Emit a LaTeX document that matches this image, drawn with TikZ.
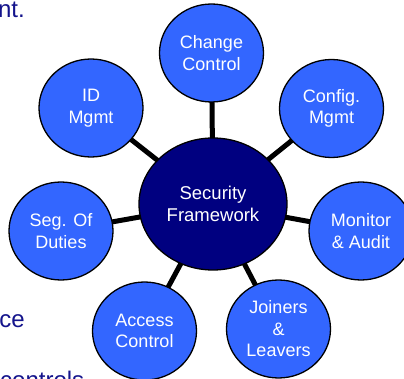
\documentclass[tikz,border=0pt]{standalone}
\usepackage{fontspec}
\setmainfont{Liberation Sans}
\usetikzlibrary{shapes.geometric,backgrounds}
\definecolor{satblue}{RGB}{51,102,255}
\definecolor{corenavy}{RGB}{0,0,128}
\definecolor{slidetext}{RGB}{20,20,140}
\tikzset{
  sat/.style={ellipse, draw=black, line width=1.3pt, fill=satblue, text=white,
    minimum width=104pt, minimum height=98pt, inner sep=0pt, align=center,
    font=\fontsize{18}{21.5}\selectfont},
  core/.style={ellipse, draw=black, line width=1.3pt, fill=corenavy, text=white,
    minimum width=148pt, minimum height=132pt, inner sep=0pt, align=center,
    font=\fontsize{18.5}{22}\selectfont},
  spoke/.style={line width=5pt, black},
  slide/.style={text=slidetext, inner sep=0pt, font=\fontsize{24}{28}\selectfont}
}
\begin{document}
\begin{tikzpicture}[x=1pt,y=-1pt]
\useasboundingbox (0,0) rectangle (404,379);
\clip (0,0) rectangle (404,379);
\node[slide, anchor=base east] (t1) at (25,18) {nt.};
\node[slide, anchor=base east] (t2) at (25,327) {ce};
\node[slide, anchor=base west] (t3) at (0,388) {controls};
\node[core] (sf) at (213,204) {Security\\Framework};
\node[sat] (cc) at (211.5,53) {Change\\Control};
\node[sat] (id) at (91,108) {ID\\Mgmt};
\node[sat] (cm) at (331.5,108.5) {Config.\\Mgmt};
\node[sat] (sd) at (61,231) {Seg. Of\\Duties};
\node[sat] (ma) at (361,231) {Monitor\\\&~Audit};
\node[sat] (ac) at (144.5,331) {Access\\Control};
\node[sat] (jl) at (278.5,329) {Joiners\\\&\\Leavers};
\begin{scope}[on background layer]
  \fill[white] (0,0) rectangle (404,379);
  \foreach \s in {cc,id,cm,sd,ma,ac,jl}
    \draw[spoke] (sf.center) -- (\s.center);
\end{scope}
\end{tikzpicture}
\end{document}
